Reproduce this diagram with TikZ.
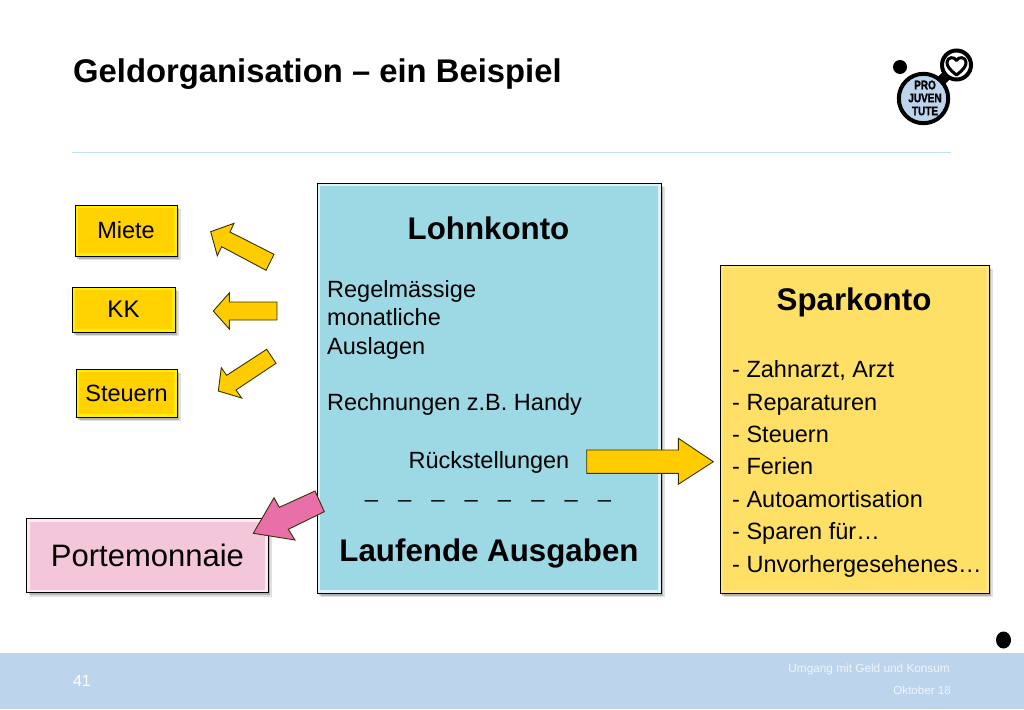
\documentclass[tikz,border=0pt]{standalone}
\usepackage{fontspec}
\setmainfont{Liberation Sans}
\newfontfamily\logofont[BoldFeatures={FakeBold=1.5}]{Liberation Sans}
\usetikzlibrary{shadows}
\definecolor{arrowgold}{HTML}{FFCC00}
\definecolor{minigold}{HTML}{FFD200}
\definecolor{minirim}{HTML}{FFEE00}
\definecolor{lohnblue}{HTML}{9DD9E4}
\definecolor{lohnrim}{HTML}{DDF3F7}
\definecolor{sparyellow}{HTML}{FFE066}
\definecolor{sparrim}{HTML}{FFE680}
\definecolor{pinkfill}{HTML}{F4C6DA}
\definecolor{pinkrim}{HTML}{FBEAF2}
\definecolor{pinkarrow}{HTML}{E96FA8}
\definecolor{footblue}{HTML}{BDD5EC}
\definecolor{footline}{HTML}{BFE3EE}
\definecolor{logoblue}{HTML}{BDD5EC}
\definecolor{edgedark}{HTML}{3A3000}
\newcommand{\sized}[1]{\fontsize{#1}{#1}\selectfont}
\tikzset{
  framedbox/.style n args={3}{draw=black, line width=1pt, fill=#2, minimum width=#3, inner sep=0pt,
    drop shadow={shadow xshift=3.5pt, shadow yshift=-4pt, fill=black, opacity=0.12},
    drop shadow={shadow xshift=2pt, shadow yshift=-2.5pt, fill=black, opacity=0.2},
    path picture={\fill [#1] ([shift={(3pt,-3pt)}]path picture bounding box.north west)
      rectangle ([shift={(-3pt,3pt)}]path picture bounding box.south east);}},
  blockarrow/.style={draw=edgedark, line width=0.9pt, line join=miter, fill=#1},
  blockarrow/.default=arrowgold
}
\begin{document}
\begin{tikzpicture}[x=1pt,y=-1pt]
\useasboundingbox (0,0) rectangle (1024,709);

% footer and rule
\fill [footblue] (0,653) rectangle (1024,709);
\draw [footline, line width=1pt] (72,152) -- (951,152);
\node (title) [anchor=base west, inner sep=0pt] at (73,82) {\sized{32.8}\bfseries Geldorganisation -- ein Beispiel};
\node (page) [anchor=base, inner sep=0pt, text=white] at (82,686) {\sized{16}41};
\node (topic) [anchor=base east, inner sep=0pt, text=white!75!footblue] at (950,672) {\sized{11.8}Umgang mit Geld und Konsum};
\node (date) [anchor=base east, inner sep=0pt, text=white!75!footblue] at (951,694) {\sized{11.6}Oktober 18};
\fill (1003.5,640) circle [x radius=7.5, y radius=8.5];

% logo
\fill (900,67) circle [radius=7];
\draw [line width=10pt] (941,81) -- (946,76);
\draw [line width=4pt, fill=logoblue] (923.5,98.5) circle [radius=24.7];
\draw [line width=4pt, fill=white] (956.5,65) circle [radius=14.5];
\draw [line width=3pt, line join=round, fill=white] (956.5,75) .. controls (950,70) and (946.5,66) .. (947,62)
  .. controls (947.5,57) and (954,56) .. (956.5,60.5)
  .. controls (959,56) and (965.5,57) .. (966,62) .. controls (966.5,66) and (963,70) .. (956.5,75) -- cycle;
\node (logopro) [inner sep=0pt, font={\sized{12.5}\logofont\bfseries}] at (925,85) {\scalebox{0.8}[1]{PRO}};
\node (logojuven) [inner sep=0pt, font={\sized{12.5}\logofont\bfseries}] at (925,98) {\scalebox{0.8}[1]{JUVEN}};
\node (logotute) [inner sep=0pt, font={\sized{12.5}\logofont\bfseries}] at (925,111) {\scalebox{0.8}[1]{TUTE}};

% small boxes
\node (miete) [framedbox={minigold}{minirim}{102pt}, minimum height=51pt] at (126,230.5) {\raisebox{-1pt}{\sized{23.5}Miete}};
\node (kk) [framedbox={minigold}{minirim}{103pt}, minimum height=45pt] at (123.5,309.5) {\sized{24}KK};
\node (steuern) [framedbox={minigold}{minirim}{101pt}, minimum height=48pt] at (126.5,393) {\raisebox{-1pt}{\sized{23.5}Steuern}};
\node (portemonnaie) [framedbox={pinkfill}{pinkrim}{241.5pt}, minimum height=74pt] at (147.5,555.5) {\sized{31}Portemonnaie};

% main boxes
\node (lohn) [framedbox={lohnblue}{lohnrim}{344pt}, minimum height=410pt] at (489,388) {};
\node (spar) [framedbox={sparyellow}{sparrim}{269pt}, minimum height=328pt] at (854.5,429) {};

\node (lohntitle) [anchor=base, inner sep=0pt] at (488.5,239) {\sized{31.3}\bfseries Lohnkonto};
\node (lohntext) [anchor=north west, inner sep=0pt, align=left, font={\sized{23.5}}] at (327,280) {Regelmässige\\[4.9pt]monatliche\\[4.9pt]Auslagen\\[33.3pt]Rechnungen z.B. Handy};
\node (rueck) [anchor=base, inner sep=0pt] at (489,468) {\sized{23.5}Rückstellungen};
\node (dashes) [anchor=base, inner sep=0pt] at (488,497) {\sized{23}\_\hspace{20.5pt}\_\hspace{20.5pt}\_\hspace{20.5pt}\_\hspace{20.5pt}\_\hspace{20.5pt}\_\hspace{20.5pt}\_\hspace{20.5pt}\_};
\node (laufend) [anchor=base, inner sep=0pt] at (489,561) {\sized{31.3}\bfseries Laufende Ausgaben};

\node (spartitle) [anchor=base, inner sep=0pt] at (854,310) {\sized{31.3}\bfseries Sparkonto};
\node (spartext) [anchor=north west, inner sep=0pt, align=left, font={\sized{23.5}}] at (732,360.5) {- Zahnarzt, Arzt\\[8.9pt]- Reparaturen\\[8.9pt]- Steuern\\[8.9pt]- Ferien\\[8.9pt]- Autoamortisation\\[8.9pt]- Sparen für…\\[8.9pt]- Unvorhergesehenes…};

% arrows
\draw [blockarrow] (210.7,231.7) -- (234,223.3) -- (230,232) -- (274,254.3) -- (266,270.3) -- (221.7,246.7) -- (217.3,255.7) -- cycle;
\draw [blockarrow] (213.3,311) -- (229.3,293) -- (229.3,302) -- (277,302) -- (277,320) -- (229.3,320) -- (229.3,329) -- cycle;
\draw [blockarrow] (218.3,391) -- (221.3,367.7) -- (226.7,375.3) -- (266.7,349.3) -- (276,363.3) -- (236,390) -- (241.7,398) -- cycle;
\draw [blockarrow=pinkarrow] (253.3,533.3) -- (274,497.7) -- (279.3,507.3) -- (315,491) -- (324.3,511.7) -- (288.3,529.3) -- (295,540) -- cycle;
\draw [blockarrow] (586.7,450) -- (678.3,450) -- (678.3,438.3) -- (713.3,461.7) -- (678.3,484.3) -- (678.3,473.3) -- (586.7,473.3) -- cycle;

\end{tikzpicture}
\end{document}
